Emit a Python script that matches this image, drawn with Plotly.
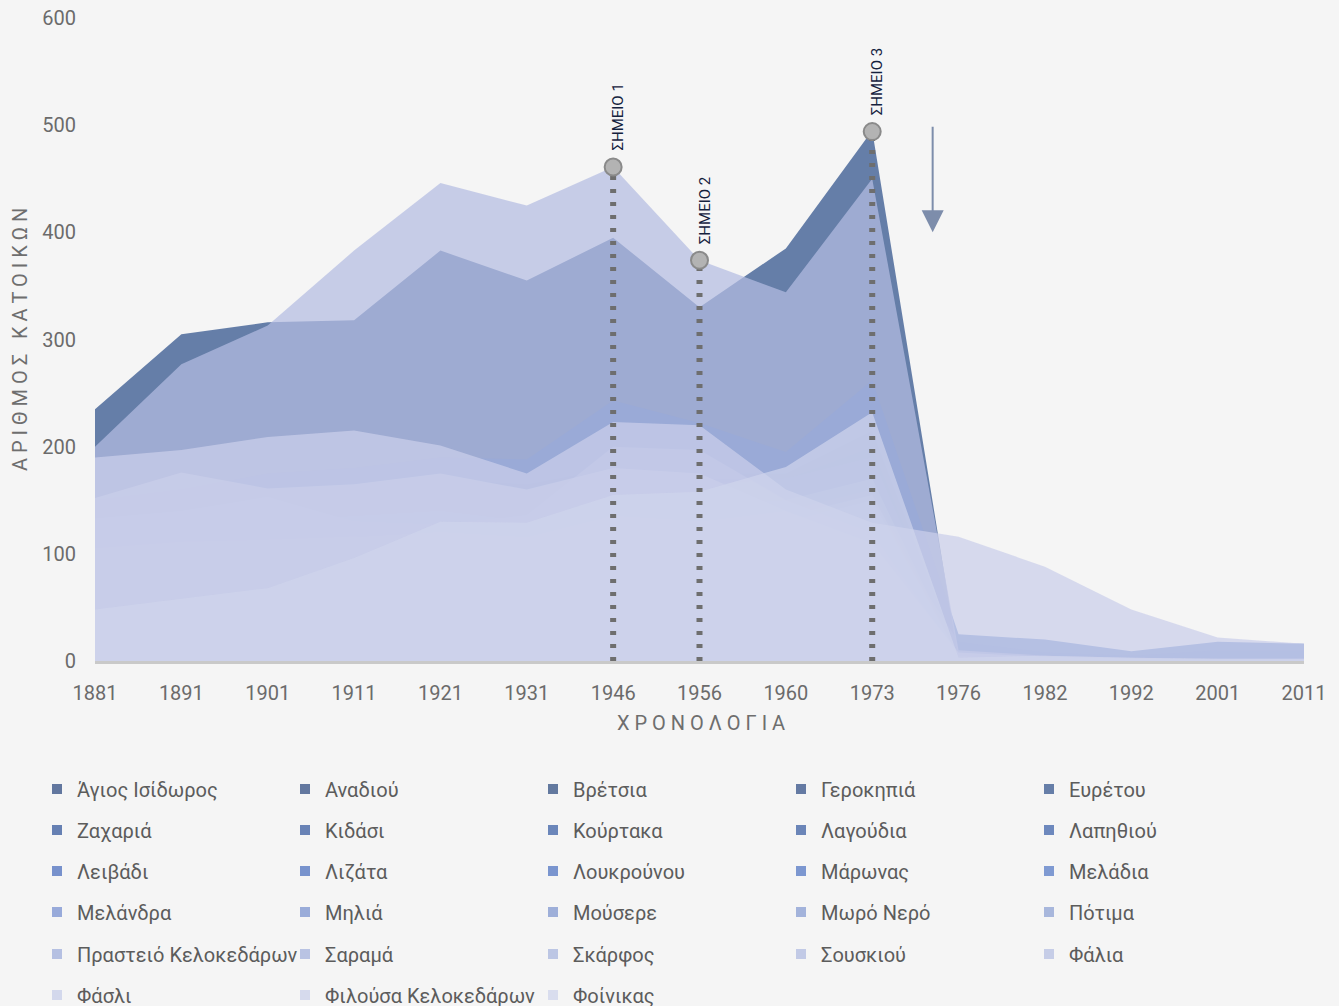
import plotly.graph_objects as go

# ---------------- data ----------------
years = ["1881", "1891", "1901", "1911", "1921", "1931", "1946", "1956",
         "1960", "1973", "1976", "1982", "1992", "2001", "2011"]

agios_isidoros = [85, 95, 100, 110, 105, 100, 120, 110, 100, 120, 4, 2, 1, 1, 0]
anadiou = [120, 125, 130, 120, 115, 110, 140, 135, 130, 150, 2, 0, 0, 0, 0]
vretsia = [140, 150, 150, 160, 170, 165, 180, 170, 170, 200, 3, 0, 0, 0, 0]
gerokipia = [100, 110, 115, 125, 140, 150, 170, 175, 175, 215, 5, 3, 2, 1, 1]
evretou = [235, 305, 316, 318, 383, 355, 395, 330, 385, 495, 0, 0, 0, 0, 0]
zacharia = [70, 80, 85, 95, 100, 105, 115, 110, 120, 140, 2, 1, 0, 0, 0]
kidasi = [90, 95, 100, 105, 110, 100, 120, 125, 130, 150, 3, 2, 1, 1, 1]
kourtaka = [60, 65, 70, 75, 80, 85, 95, 90, 95, 110, 1, 0, 0, 0, 0]
lagoudia = [110, 115, 120, 125, 130, 125, 140, 145, 150, 170, 4, 2, 1, 0, 0]
lapithiou = [130, 135, 140, 150, 160, 150, 175, 165, 170, 190, 3, 1, 0, 0, 0]
leivadi = [50, 55, 60, 65, 70, 75, 85, 80, 85, 100, 2, 0, 0, 0, 0]
lizata = [75, 85, 90, 100, 105, 110, 125, 120, 125, 140, 3, 1, 0, 0, 0]
loukrounou = [95, 100, 105, 115, 120, 115, 135, 130, 140, 160, 5, 2, 1, 0, 0]
maronas = [65, 70, 75, 80, 90, 95, 105, 100, 105, 120, 2, 1, 0, 0, 0]
meladia = [150, 160, 175, 180, 190, 188, 243, 222, 195, 262, 25, 20, 9, 18, 16]
melandra = [100, 105, 110, 100, 95, 90, 110, 105, 110, 130, 3, 1, 0, 0, 0]
milia = [80, 85, 90, 95, 100, 95, 115, 110, 120, 135, 2, 1, 0, 0, 0]
mousere = [105, 111, 113, 116, 110, 105, 125, 120, 125, 140, 18, 8, 5, 10, 10]
moro_nero = [55, 60, 65, 70, 75, 80, 90, 85, 90, 105, 7, 3, 2, 2, 3]
potima = [120, 125, 130, 135, 140, 130, 150, 145, 150, 170, 2, 0, 0, 0, 0]
prastio = [90, 95, 100, 110, 115, 110, 130, 125, 130, 150, 3, 1, 0, 0, 0]
sarama = [70, 75, 80, 85, 90, 85, 100, 95, 100, 115, 1, 0, 0, 0, 0]
skarfos = [100, 105, 110, 115, 120, 115, 135, 130, 135, 155, 4, 2, 1, 1, 0]
souskiou = [133, 140, 153, 130, 127, 136, 200, 197, 150, 120, 5, 3, 2, 1, 1]
falia = [200, 277, 313, 383, 446, 425, 461, 374, 344, 450, 10, 5, 3, 2, 2]
fasli = [152, 176, 161, 165, 175, 160, 180, 175, 140, 110, 8, 4, 2, 1, 1]
filousa = [190, 197, 209, 215, 201, 175, 223, 220, 160, 129, 116, 88, 48, 22, 16]
foinikas = [48, 58, 68, 96, 130, 129, 155, 158, 181, 232, 3, 5, 3, 2, 2]

village_names = [
    "Άγιος Ισίδωρος", "Αναδιού", "Βρέτσια", "Γεροκηπιά", "Ευρέτου",
    "Ζαχαριά", "Κιδάσι", "Κούρτακα", "Λαγούδια", "Λαπηθιού",
    "Λειβάδι", "Λιζάτα", "Λουκρούνου", "Μάρωνας", "Μελάδια",
    "Μελάνδρα", "Μηλιά", "Μούσερε", "Μωρό Νερό", "Πότιμα",
    "Πραστειό Κελοκεδάρων", "Σαραμά", "Σκάρφος", "Σουσκιού", "Φάλια",
    "Φάσλι", "Φιλούσα Κελοκεδάρων", "Φοίνικας",
]
village_values = [
    agios_isidoros, anadiou, vretsia, gerokipia, evretou,
    zacharia, kidasi, kourtaka, lagoudia, lapithiou,
    leivadi, lizata, loukrounou, maronas, meladia,
    melandra, milia, mousere, moro_nero, potima,
    prastio, sarama, skarfos, souskiou, falia,
    fasli, filousa, foinikas,
]

legend_colors = [
    "#62779f", "#63789f", "#63799f", "#647aa3", "#667ea8",
    "#6680b3", "#6983b6", "#6b86ba", "#6b85b8", "#6d88bd",
    "#7791cc", "#7893cd", "#7a95cf", "#7c97d0", "#7f9ad2",
    "#98aada", "#9aacd9", "#9eafd9", "#a3b3db", "#a8b7dc",
    "#b5c0e2", "#b9c3e3", "#bcc6e4", "#c2cae6", "#c6cde7",
    "#d3d8ec", "#d6daed", "#d9ddee",
]

point_years = ["1946", "1956", "1973"]
point_values = [461, 374, 494]
point_labels = ["ΣΗΜΕΙΟ 1", "ΣΗΜΕΙΟ 2", "ΣΗΜΕΙΟ 3"]

y_ticks = [0, 100, 200, 300, 400, 500, 600]

# ---------------- styling helpers ----------------
BG = (245, 245, 245)
ALPHA = 0.72
FONT = "Roboto"
W, H = 1339, 1006
ML, MR, MT, MB = 95, 35, 18, 345
PW, PH = W - ML - MR, H - MT - MB


def hex_rgb(h):
    h = h.lstrip("#")
    return tuple(int(h[i:i + 2], 16) for i in (0, 2, 4))


def fill_rgba(h):
    # colour whose translucent fill over the background looks like the legend swatch
    c = hex_rgb(h)
    r = [max(0, min(255, round((ci - (1 - ALPHA) * bi) / ALPHA))) for ci, bi in zip(c, BG)]
    return f"rgba({r[0]},{r[1]},{r[2]},{ALPHA})"


fig = go.Figure()

# areas (first series at the back)
for name, vals, col in zip(village_names, village_values, legend_colors):
    fig.add_trace(go.Scatter(
        x=years, y=vals, name=name, mode="none", fill="tozeroy",
        fillcolor=fill_rgba(col), showlegend=False, hoverinfo="x+y+name",
    ))

# dotted drop lines and markers
for py, pv in zip(point_years, point_values):
    fig.add_trace(go.Scatter(
        x=[py, py], y=[0, pv], mode="lines", showlegend=False,
        line=dict(color="#6e6e6e", width=6, dash="4px,9px"), hoverinfo="skip",
    ))
fig.add_trace(go.Scatter(
    x=point_years, y=point_values, mode="markers", showlegend=False,
    marker=dict(size=17, color="#b3b3b3", line=dict(color="#8a8a8a", width=2)),
    hoverinfo="skip",
))

# legend entries (square swatches): one small legend per entry, 5 columns
col_x = [57, 305, 553, 801, 1049]      # swatch centres (px)
row_y = [789, 830, 871, 912, 954, 995]  # row centres (px)
legend_layout = {}
for i, (name, col) in enumerate(zip(village_names, legend_colors)):
    ln = "legend" if i == 0 else f"legend{i + 1}"
    fig.add_trace(go.Scatter(
        x=[None], y=[None], mode="markers", name=name,
        marker=dict(symbol="square", size=10, color=col),
        legend=ln, showlegend=True,
    ))
    r, c = divmod(i, 5)
    legend_layout[ln] = dict(
        orientation="h", xref="container", yref="container",
        x=(col_x[c] - 20) / W, y=1 - row_y[r] / H, xanchor="left", yanchor="middle",
        itemwidth=30, font=dict(family=FONT, size=20, color="#5c5c5c"),
        bgcolor="rgba(0,0,0,0)", borderwidth=0,
    )

annotations = []
for py, pv, pl in zip(point_years, point_values, point_labels):
    annotations.append(dict(
        x=years.index(py), y=pv, xref="x", yref="y", text=pl, textangle=-90,
        showarrow=False, yanchor="bottom", xanchor="center", yshift=14, xshift=5,
        font=dict(family=FONT, size=15, color="#14213d"),
    ))
# downward arrow between 1973 and 1976
annotations.append(dict(
    x=9.7, y=400, ax=9.7, ay=500, xref="x", yref="y", axref="x", ayref="y",
    text="", showarrow=True, arrowhead=2, arrowsize=2.2, arrowwidth=2,
    arrowcolor="#7d8dab",
))
# axis titles
annotations.append(dict(
    x=(20 - ML) / PW, y=(661 - 340) / PH, xref="paper", yref="paper",
    xanchor="center", yanchor="middle",
    text="Α Ρ Ι Θ Μ Ο Σ   Κ Α Τ Ο Ι Κ Ω Ν", textangle=-90, showarrow=False,
    font=dict(family=FONT, size=20, color="#6e6e6e"),
))
annotations.append(dict(
    x=(701 - ML) / PW, y=(661 - 723) / PH, xref="paper", yref="paper",
    xanchor="center", yanchor="middle",
    text="Χ Ρ Ο Ν Ο Λ Ο Γ Ι Α", showarrow=False,
    font=dict(family=FONT, size=20, color="#6e6e6e"),
))

fig.update_layout(
    width=W, height=H,
    margin=dict(l=ML, r=MR, t=MT, b=MB, autoexpand=False),
    paper_bgcolor="#f5f5f5", plot_bgcolor="#f5f5f5",
    font=dict(family=FONT, color="#6b6b6b"),
    annotations=annotations,
    hovermode="closest",
    **legend_layout,
)
fig.update_xaxes(
    type="category", range=[0, 14], showgrid=False, zeroline=False,
    showline=True, linecolor="#c9c9c9", linewidth=3, ticks="",
    tickfont=dict(family=FONT, size=20, color="#6b6b6b"), ticklabelstandoff=12,
    automargin=False,
)
fig.update_yaxes(
    range=[0, 600], tickvals=y_ticks, showgrid=False, zeroline=False,
    showline=False, ticks="",
    tickfont=dict(family=FONT, size=20, color="#6b6b6b"), ticklabelstandoff=18,
    automargin=False,
)

fig.write_html("out.html", config={"displayModeBar": False},
               post_script="document.body.style.margin='0px';")
